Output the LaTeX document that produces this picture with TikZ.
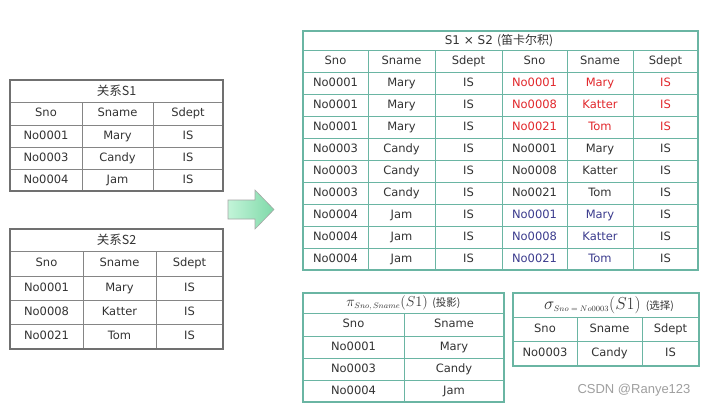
\documentclass[tikz,border=0pt]{standalone}
\usepackage{fontspec}
\newfontfamily\djsansfont{DejaVu Sans}
\newfontfamily\cjkzhfont{Noto Sans CJK SC}
\newfontfamily\libsansfont{Liberation Sans}
\definecolor{txtc}{HTML}{333333}
\definecolor{redc}{HTML}{E2282C}
\definecolor{bluec}{HTML}{3C3C8E}
\definecolor{grayln}{HTML}{707070}
\definecolor{tealln}{HTML}{6AB5A3}
\definecolor{arrowl}{HTML}{C2F4D8}
\definecolor{arrowr}{HTML}{7FD9A9}
\newcommand\subtxt[1]{\hbox{\fontsize{8}{9}\selectfont$#1$}}
\tikzset{
  txt/.style={font=\djsansfont\fontsize{11.5}{13}\selectfont, text=txtc, inner sep=0pt, text height=8.4pt, text depth=2.2pt, anchor=center},
  ttl/.style={font=\fontsize{12.5}{14}\selectfont, text=txtc, inner sep=0pt, anchor=center},
  red/.style={txt, text=redc},
  blu/.style={txt, text=bluec},
  graybox/.style={draw=grayln, line width=1.3pt},
  grayline/.style={draw=grayln!85, line width=0.8pt},
  tealbox/.style={draw=tealln, line width=1.3pt},
  tealline/.style={draw=tealln, line width=0.8pt},
}
\begin{document}
\begin{tikzpicture}[x=1pt,y=-1pt]
\useasboundingbox[fill=white] (0,0) rectangle (706,408);

% ---------- S1 ----------
\foreach \y in {102,125,147,169} \draw[grayline] (10,\y) -- (223,\y);
\foreach \x in {82,153} \draw[grayline] (\x,102) -- (\x,191);
\draw[graybox] (10,80) rectangle (223,191);
\node[ttl] (s1t) at (116.5,91) {\cjkzhfont 关系S1};
\foreach [count=\r] \a/\b/\c/\yc in {Sno/Sname/Sdept/113.5, No0001/Mary/IS/136, No0003/Candy/IS/158, No0004/Jam/IS/180}{
  \node[txt] (s1-\r-1) at (46,\yc) {\a};
  \node[txt] (s1-\r-2) at (117.5,\yc) {\b};
  \node[txt] (s1-\r-3) at (188,\yc) {\c};
}

% ---------- S2 ----------
\foreach \y in {251,276,300,324} \draw[grayline] (10,\y) -- (223,\y);
\foreach \x in {83,156} \draw[grayline] (\x,251) -- (\x,349);
\draw[graybox] (10,229) rectangle (223,349);
\node[ttl] (s2t) at (116.5,240) {\cjkzhfont 关系S2};
\foreach [count=\r] \a/\b/\c/\yc in {Sno/Sname/Sdept/263.5, No0001/Mary/IS/288, No0008/Katter/IS/312, No0021/Tom/IS/336.5}{
  \node[txt] (s2-\r-1) at (46.5,\yc) {\a};
  \node[txt] (s2-\r-2) at (119.5,\yc) {\b};
  \node[txt] (s2-\r-3) at (189.5,\yc) {\c};
}

% ---------- arrow ----------
\path[left color=arrowl, right color=arrowr, draw=gray!70, line width=0.6pt]
  (228,200) -- (255,200) -- (255,190) -- (274,209.5) -- (255,229) -- (255,219) -- (228,219) -- cycle;

% ---------- S1 x S2 ----------
\foreach \y in {50,72,94,116,138,160,182,204,226,248} \draw[tealline] (303,\y) -- (698,\y);
\foreach \x in {368,435,502,567,633} \draw[tealline] (\x,50) -- (\x,270);
\draw[tealbox] (303,31) rectangle (698,270);
\node[ttl] (pt) at (499,40.5) {{\djsansfont\fontsize{12}{14}\selectfont S1 × S2} {\cjkzhfont\fontsize{12}{14}\selectfont (笛卡尔积)}};
\foreach [count=\r] \a/\b/\c/\d/\e/\f/\s/\t/\yc in {
  Sno/Sname/Sdept/Sno/Sname/Sdept/txt/txt/61,
  No0001/Mary/IS/No0001/Mary/IS/red/red/83,
  No0001/Mary/IS/No0008/Katter/IS/red/red/105,
  No0001/Mary/IS/No0021/Tom/IS/red/red/127,
  No0003/Candy/IS/No0001/Mary/IS/txt/txt/149,
  No0003/Candy/IS/No0008/Katter/IS/txt/txt/171,
  No0003/Candy/IS/No0021/Tom/IS/txt/txt/193,
  No0004/Jam/IS/No0001/Mary/IS/blu/txt/215,
  No0004/Jam/IS/No0008/Katter/IS/blu/txt/237,
  No0004/Jam/IS/No0021/Tom/IS/blu/txt/259}{
  \node[txt] (p-\r-1) at (335.5,\yc) {\a};
  \node[txt] (p-\r-2) at (401.5,\yc) {\b};
  \node[txt] (p-\r-3) at (468.5,\yc) {\c};
  \node[\s] (p-\r-4) at (534.5,\yc) {\d};
  \node[\s] (p-\r-5) at (600,\yc) {\e};
  \node[\t] (p-\r-6) at (665.5,\yc) {\f};
}

% ---------- projection ----------
\foreach \y in {313,336,358,380} \draw[tealline] (303,\y) -- (504,\y);
\draw[tealline] (404,313) -- (404,402);
\draw[tealbox] (303,293) rectangle (504,402);
\node[ttl] (prt) at (403.5,303) {\fontsize{15}{17}\selectfont$\pi_{\subtxt{Sno,Sname}}(S1)$ {\cjkzhfont\fontsize{10.5}{12}\selectfont (投影)}};
\foreach [count=\r] \a/\b/\yc in {Sno/Sname/324.5, No0001/Mary/347, No0003/Candy/369, No0004/Jam/391}{
  \node[txt] (pr-\r-1) at (353.5,\yc) {\a};
  \node[txt] (pr-\r-2) at (454,\yc) {\b};
}

% ---------- selection ----------
\foreach \y in {317,341} \draw[tealline] (513,\y) -- (699,\y);
\foreach \x in {577,642} \draw[tealline] (\x,317) -- (\x,366);
\draw[tealbox] (513,293) rectangle (699,366);
\node[ttl] (se) at (609,305) {\fontsize{16.5}{18}\selectfont$\sigma_{\subtxt{Sno=No0003}}(S1)$\ {\cjkzhfont\fontsize{10.5}{12}\selectfont (选择)}};
\foreach [count=\r] \a/\b/\c/\yc in {Sno/Sname/Sdept/329, No0003/Candy/IS/353.5}{
  \node[txt] (se-\r-1) at (545,\yc) {\a};
  \node[txt] (se-\r-2) at (609.5,\yc) {\b};
  \node[txt] (se-\r-3) at (670.5,\yc) {\c};
}

% ---------- watermark ----------
\node[font=\libsansfont\fontsize{13}{15}\selectfont, text=gray!75, inner sep=0pt, anchor=center] (wm) at (634,390) {CSDN @Ranye123};
\end{tikzpicture}
\end{document}
